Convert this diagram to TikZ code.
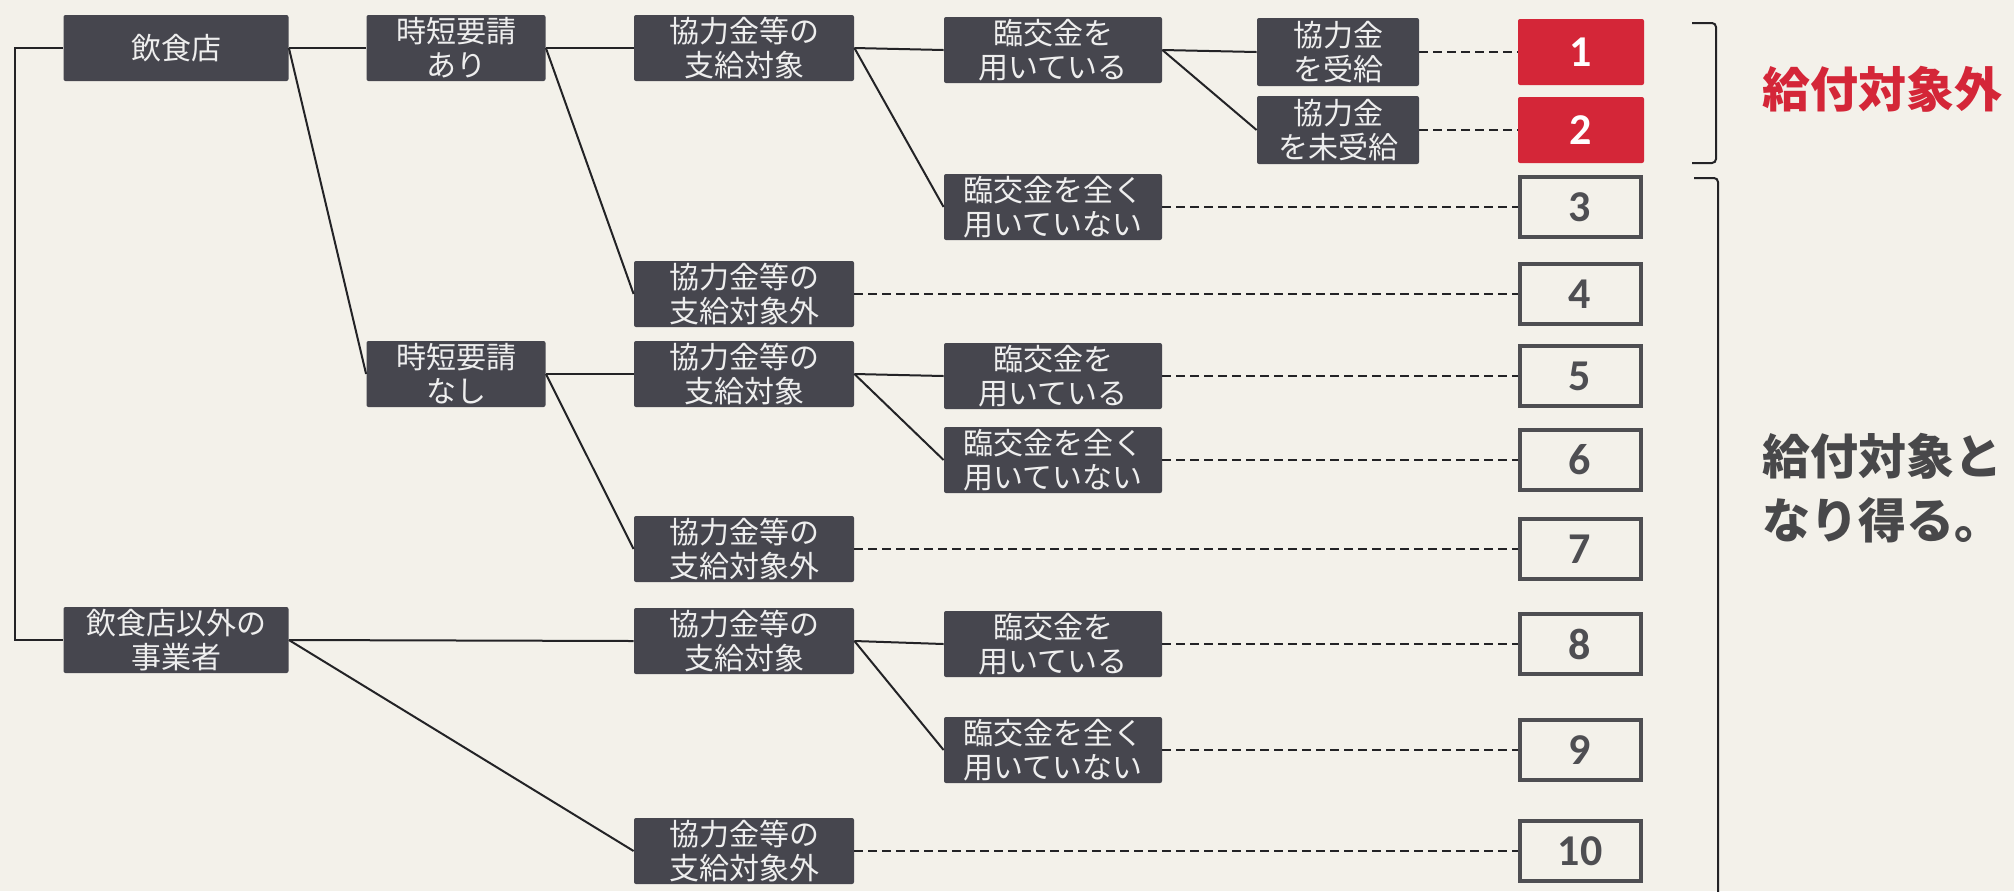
\documentclass[tikz,border=0pt]{standalone}
\usepackage{fontspec}
\setmainfont{Noto Sans CJK JP}
\newfontfamily\numfont{Carlito}
\definecolor{bgc}{RGB}{243,241,234}
\definecolor{boxc}{RGB}{70,70,78}
\definecolor{redc}{RGB}{212,38,56}
\definecolor{numc}{RGB}{78,78,82}
\definecolor{linec}{RGB}{35,35,38}
\definecolor{labc}{RGB}{72,72,74}
\definecolor{boxtext}{RGB}{238,238,238}
\begin{document}
\begin{tikzpicture}[x=0.5pt,y=-0.5pt,
  box/.style={fill=boxc, text=boxtext, rounded corners=1pt, inner sep=0pt, align=center,
    font=\fontsize{15}{17}\selectfont, minimum height=33pt},
  wa/.style={box, minimum width=112.5pt},
  wb/.style={box, minimum width=89.5pt},
  wc/.style={box, minimum width=110pt},
  wd/.style={box, minimum width=109pt},
  we/.style={box, minimum width=81pt, minimum height=34pt},
  numbox/.style={draw=numc, line width=2pt, fill=bgc, text=numc, inner sep=0pt,
    minimum width=60.5pt, minimum height=30pt, font=\numfont\bfseries\fontsize{22}{22}\selectfont},
  numred/.style={fill=redc, text=white, inner sep=0pt, rounded corners=1pt,
    minimum width=63pt, minimum height=33pt, font=\numfont\bfseries\fontsize{22}{22}\selectfont},
  conn/.style={draw=linec, line width=1pt},
  dashline/.style={draw=linec, line width=1pt, dash pattern=on 4.5pt off 2.5pt},
  bracket/.style={draw=linec, line width=1pt, rounded corners=2pt}
]
\fill[bgc] (0,0) rectangle (2014,891);
\useasboundingbox (0,0) rectangle (2014,891);

% column 1
\node[wa] (A) at (176,48) {飲食店};
\node[wa] (P) at (176,640) {飲食店以外の\\事業者};
% column 2
\node[wb] (B) at (456,48) {時短要請\\あり};
\node[wb] (I) at (456,374) {時短要請\\なし};
% column 3
\node[wc] (C) at (744,48) {協力金等の\\支給対象};
\node[wc] (H) at (744,294) {協力金等の\\支給対象外};
\node[wc] (J) at (744,374) {協力金等の\\支給対象};
\node[wc] (M) at (744,549) {協力金等の\\支給対象外};
\node[wc] (Q) at (744,641) {協力金等の\\支給対象};
\node[wc] (T) at (744,851) {協力金等の\\支給対象外};
% column 4
\node[wd] (D) at (1053,50) {臨交金を\\用いている};
\node[wd] (G) at (1053,207) {臨交金を全く\\用いていない};
\node[wd] (K) at (1053,376) {臨交金を\\用いている};
\node[wd] (L) at (1053,460) {臨交金を全く\\用いていない};
\node[wd] (R) at (1053,644) {臨交金を\\用いている};
\node[wd] (S) at (1053,750) {臨交金を全く\\用いていない};
% column 5
\node[we] (E) at (1338,52) {協力金\\を受給};
\node[we] (F) at (1338,130) {協力金\\を未受給};
% numbers
\node[numred] (N1) at (1581,52) {1};
\node[numred] (N2) at (1581,130) {2};
\node[numbox] (N3) at (1580,207) {3};
\node[numbox] (N4) at (1580,294) {4};
\node[numbox] (N5) at (1580,376) {5};
\node[numbox] (N6) at (1580,460) {6};
\node[numbox] (N7) at (1580,549) {7};
\node[numbox] (N8) at (1580,644) {8};
\node[numbox] (N9) at (1580,750) {9};
\node[numbox] (N10) at (1580,851) {10};

% left connector
\coordinate (LL) at (15,0);
\draw[conn] (A.west) -- (A.west -| LL) -- (P.west -| LL) -- (P.west);

% solid connectors
\draw[conn] (A.east) -- (B.west);
\draw[conn] (A.east) -- (I.west);
\draw[conn] (B.east) -- (C.west);
\draw[conn] (B.east) -- (H.west);
\draw[conn] (C.east) -- (D.west);
\draw[conn] (C.east) -- (G.west);
\draw[conn] (D.east) -- (E.west);
\draw[conn] (D.east) -- (F.west);
\draw[conn] (I.east) -- (J.west);
\draw[conn] (I.east) -- (M.west);
\draw[conn] (J.east) -- (K.west);
\draw[conn] (J.east) -- (L.west);
\draw[conn] (P.east) -- (Q.west);
\draw[conn] (P.east) -- (T.west);
\draw[conn] (Q.east) -- (R.west);
\draw[conn] (Q.east) -- (S.west);

% dashed connectors
\draw[dashline] (E.east) -- (N1.west);
\draw[dashline] (F.east) -- (N2.west);
\draw[dashline] (G.east) -- (N3.west);
\draw[dashline] (H.east) -- (N4.west);
\draw[dashline] (K.east) -- (N5.west);
\draw[dashline] (L.east) -- (N6.west);
\draw[dashline] (M.east) -- (N7.west);
\draw[dashline] (R.east) -- (N8.west);
\draw[dashline] (S.east) -- (N9.west);
\draw[dashline] (T.east) -- (N10.west);

% brackets
\draw[bracket] (1692,23) -- (1716,23) -- (1716,163) -- (1692,163);
\draw[bracket] (1694,178) -- (1718,178) -- (1718,895);

% labels
\node[anchor=west, inner sep=0pt, text=redc, font=\bfseries\fontsize{24}{24}\selectfont] (lab1) at (1762,89) {給付対象外};
\node[anchor=west, inner sep=0pt, text=labc, align=left, font=\bfseries\fontsize{24}{32}\selectfont] (lab2) at (1762,488) {給付対象と\\なり得る。};
\end{tikzpicture}
\end{document}
